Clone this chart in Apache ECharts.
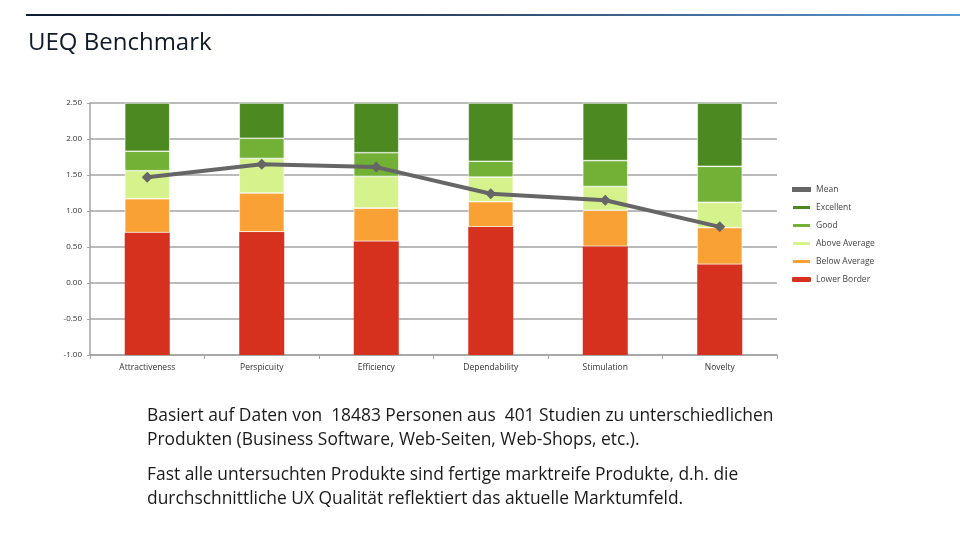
<!DOCTYPE html>
<html>
<head>
<meta charset="utf-8">
<script src="https://cdn.jsdelivr.net/npm/echarts@6/dist/echarts.min.js"></script>
<style>
  html, body { margin: 0; padding: 0; background: #fff; }
  #chart { width: 960px; height: 540px; }
</style>
</head>
<body>
<div id="chart"></div>
<script>
// scales of the UEQ benchmark
var categories = ['Attractiveness', 'Perspicuity', 'Efficiency', 'Dependability', 'Stimulation', 'Novelty'];
// upper border of each band (axis values)
var lowerBorderTop = [0.70, 0.71, 0.58, 0.78, 0.51, 0.26];
var belowAverageTop = [1.17, 1.25, 1.04, 1.13, 1.01, 0.77];
var aboveAverageTop = [1.56, 1.73, 1.48, 1.47, 1.34, 1.12];
var goodTop = [1.83, 2.01, 1.81, 1.69, 1.70, 1.62];
var excellentTop = [2.50, 2.50, 2.50, 2.50, 2.50, 2.50];
var meanValues = [1.47, 1.65, 1.61, 1.24, 1.15, 0.78];
var yTicks = [-1.0, -0.5, 0.0, 0.5, 1.0, 1.5, 2.0, 2.5];

function diff(top, bottom) {
    return top.map(function (v, i) { return +(v - bottom[i]).toFixed(2); });
}
// the bars start at the bottom of the axis, not at 0
var lowerBorderStart = categories.map(function () { return yTicks[0]; });

var myChart = echarts.init(document.getElementById('chart'));

var barStyle = function (name, color, data, noBorder) {
    return {
        name: name,
        type: 'bar',
        stack: 'bench',
        barWidth: 45,
        data: data,
        itemStyle: { color: color, borderColor: '#ffffff', borderWidth: noBorder ? 0 : 0.6 },
        emphasis: { disabled: true }
    };
};

var textStyle = { fontFamily: 'Open Sans', fontSize: 17.4, fill: '#1a1a1a' };

var option = {
    animation: false,
    backgroundColor: '#ffffff',
    graphic: [
        {
            type: 'rect', left: 26, top: 14,
            shape: { width: 934, height: 2 },
            style: {
                fill: new echarts.graphic.LinearGradient(0, 0, 1, 0, [
                    { offset: 0, color: '#0e1b33' },
                    { offset: 0.45, color: '#2e4566' },
                    { offset: 1, color: '#5d9bd6' }
                ])
            }
        },
        { type: 'text', left: 28, top: 31, style: { text: 'UEQ Benchmark', fontFamily: 'Open Sans', fontSize: 24, fill: '#111a2a' } },
        { type: 'text', left: 147, top: 408, style: Object.assign({ text: 'Basiert auf Daten von  18483 Personen aus  401 Studien zu unterschiedlichen' }, textStyle) },
        { type: 'text', left: 147, top: 432, style: Object.assign({ text: 'Produkten (Business Software, Web-Seiten, Web-Shops, etc.).' }, textStyle) },
        { type: 'text', left: 147, top: 467, style: Object.assign({ text: 'Fast alle untersuchten Produkte sind fertige marktreife Produkte, d.h. die' }, textStyle) },
        { type: 'text', left: 147, top: 491, style: Object.assign({ text: 'durchschnittliche UX Qualität reflektiert das aktuelle Marktumfeld.' }, textStyle) }
    ],
    grid: { left: 90, right: 183, top: 103, bottom: 185 },
    legend: {
        orient: 'vertical',
        left: 791,
        top: 185,
        padding: 0,
        itemGap: 9,
        itemWidth: 19,
        itemHeight: 5,
        textStyle: { fontFamily: 'Open Sans', fontSize: 8.5, color: '#444' },
        data: [
            { name: 'Mean', icon: 'rect', itemStyle: { color: '#666666' } },
            'Excellent', 'Good', 'Above Average', 'Below Average', 'Lower Border'
        ]
    },
    xAxis: {
        type: 'category',
        data: categories,
        axisLine: { onZero: false, lineStyle: { color: '#a3a3a3', width: 1.5 } },
        axisTick: { show: true, length: 4, lineStyle: { color: '#a3a3a3' } },
        axisLabel: { fontFamily: 'Open Sans', fontSize: 8.5, color: '#333', margin: 8 }
    },
    yAxis: {
        type: 'value',
        min: yTicks[0],
        max: yTicks[yTicks.length - 1],
        interval: 0.5,
        axisLine: { show: true, lineStyle: { color: '#a3a3a3', width: 1.5 } },
        axisTick: { show: true, length: 3, lineStyle: { color: '#a3a3a3' } },
        axisLabel: {
            fontFamily: 'Open Sans', fontSize: 8, color: '#333', margin: 8,
            formatter: function (v) { return v.toFixed(2); }
        },
        splitLine: { lineStyle: { color: '#a3a3a3', width: 1.5 } }
    },
    series: [
        barStyle('Lower Border', '#d6301f', lowerBorderStart, true),
        barStyle('Lower Border', '#d6301f', lowerBorderTop, true),
        barStyle('Below Average', '#f9a135', diff(belowAverageTop, lowerBorderTop)),
        barStyle('Above Average', '#d6f28c', diff(aboveAverageTop, belowAverageTop)),
        barStyle('Good', '#72b136', diff(goodTop, aboveAverageTop)),
        barStyle('Excellent', '#4d8921', diff(excellentTop, goodTop)),
        {
            name: 'Mean',
            type: 'line',
            data: meanValues,
            symbol: 'diamond',
            symbolSize: 11,
            z: 5,
            lineStyle: { color: '#666666', width: 4 },
            itemStyle: { color: '#666666' }
        }
    ]
};

myChart.setOption(option);
</script>
</body>
</html>
